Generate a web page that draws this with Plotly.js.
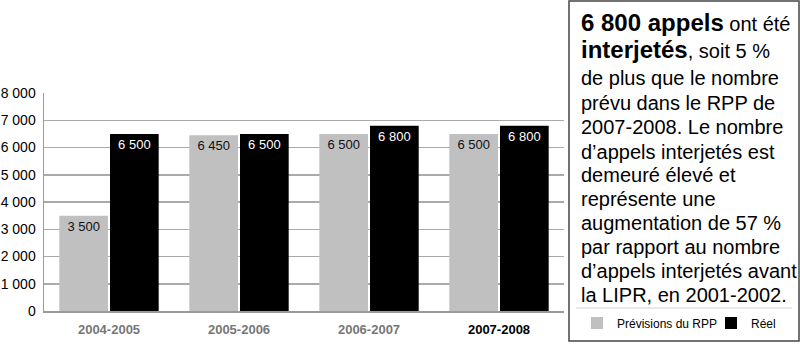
<!DOCTYPE html>
<html>
<head>
<meta charset="utf-8">
<script src="https://cdn.plot.ly/plotly-3.0.1.min.js"></script>
<style>html,body{margin:0;padding:0;background:#fff}#chart{width:800px;height:356px}</style>
</head>
<body>
<div id="chart"></div>
<script>
// ---- data ----
const categories = ["2004-2005", "2005-2006", "2006-2007", "2007-2008"];
const tickLabels = ["<b>2004-2005</b>", "<b>2005-2006</b>", "<b>2006-2007</b>", "<b><span style='color:#000000'>2007-2008</span></b>"];
const previsionsRPP = [3500, 6450, 6500, 6500];
const reel = [6500, 6500, 6800, 6800];
const seriesNames = ["Prévisions du RPP", "Réel"];
const boxLines = [
  "<b><span style='font-size:24px'>6 800 appels</span></b> ont été",
  "<b><span style='font-size:24px'>interjetés</span></b>, soit 5 %",
  "de plus que le nombre",
  "prévu dans le RPP de",
  "2007-2008. Le nombre",
  "d’appels interjetés est",
  "demeuré élevé et",
  "représente une",
  "augmentation de 57 %",
  "par rapport au nombre",
  "d’appels interjetés avant",
  "la LIPR, en 2001-2002."
];

// ---- layout helpers (pixel -> paper) ----
const W = 800, H = 356;
const L = 44, R = 564, T = 93, B = 311;
const X = px => (px - L) / (R - L);
const Y = py => (B - py) / (B - T);
const lineYs = [22, 49, 78, 103, 127, 152, 175, 199, 223, 247, 271, 295];

const FONT = "Liberation Sans, Arial, sans-serif";

const traces = [
  {
    type: "bar", name: seriesNames[0], x: categories, y: previsionsRPP,
    marker: {color: "#c0c0c0"},
    texttemplate: "%{y:,d}", textposition: "inside", insidetextanchor: "end",
    textangle: 0, constraintext: "none",
    textfont: {family: FONT, size: 13, color: "#111111"},
    hoverinfo: "skip"
  },
  {
    type: "bar", name: seriesNames[1], x: categories, y: reel,
    marker: {color: "#000000"},
    texttemplate: "%{y:,d}", textposition: "inside", insidetextanchor: "end",
    textangle: 0, constraintext: "none",
    textfont: {family: FONT, size: 13, color: "#ffffff"},
    hoverinfo: "skip"
  }
];

const annotations = boxLines.map((t, i) => ({
  text: t, xref: "paper", yref: "paper",
  x: X(579), y: Y(lineYs[i]), xanchor: "left", yanchor: "middle",
  showarrow: false, align: "left",
  font: {family: FONT, size: 20, color: "#000000"}
}));

const layout = {
  width: W, height: H,
  margin: {l: L, r: W - R, t: T, b: H - B, pad: 0, autoexpand: false},
  paper_bgcolor: "#ffffff", plot_bgcolor: "#ffffff",
  separators: ", ",
  font: {family: FONT, size: 14, color: "#000000"},
  barmode: "group", bargap: 0.22, bargroupgap: 0.04,
  xaxis: {
    type: "category", tickvals: categories, ticktext: tickLabels,
    tickfont: {family: FONT, size: 13, color: "#777777"},
    showgrid: false, showline: true, linecolor: "#9a9a9a", linewidth: 1.5,
    ticks: "", ticklabelstandoff: 6, fixedrange: true, automargin: false
  },
  yaxis: {
    range: [0, 8000], tickvals: [0, 1000, 2000, 3000, 4000, 5000, 6000, 7000, 8000],
    tickformat: ",d",
    tickfont: {family: FONT, size: 14, color: "#000000"},
    showgrid: true, gridcolor: "#aaaaaa", gridwidth: 1.5,
    showline: true, linecolor: "#9a9a9a", linewidth: 1.5,
    zeroline: false, ticks: "", ticklabelstandoff: 4, fixedrange: true, automargin: false
  },
  showlegend: true,
  legend: {
    orientation: "h", xref: "container", yref: "container",
    x: 577 / W, y: 1 - 323 / H, xanchor: "left", yanchor: "middle",
    font: {family: FONT, size: 12, color: "#000000"},
    bgcolor: "rgba(0,0,0,0)", entrywidth: 89, entrywidthmode: "pixels",
    traceorder: "normal"
  },
  shapes: [
    {type: "rect", xref: "paper", yref: "paper", x0: X(569), x1: X(799), y0: Y(341), y1: Y(1),
     line: {color: "#444444", width: 1.5}, fillcolor: "rgba(0,0,0,0)", layer: "above"},
    {type: "line", xref: "paper", yref: "paper", x0: X(576), x1: X(792), y0: Y(308), y1: Y(308),
     line: {color: "#d0d0d0", width: 1}}
  ],
  annotations: annotations
};

Plotly.newPlot("chart", traces, layout, {displayModeBar: false, staticPlot: true});
</script>
</body>
</html>
